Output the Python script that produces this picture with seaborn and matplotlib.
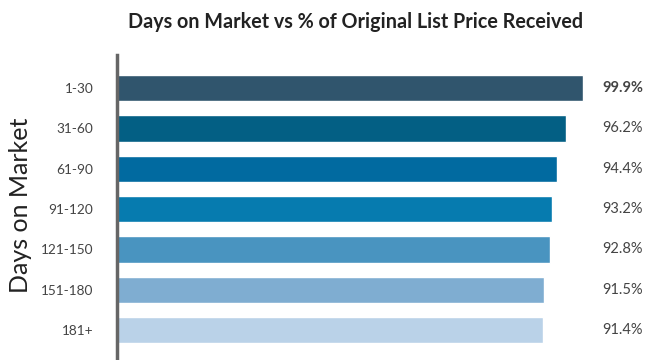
import matplotlib
matplotlib.use("Agg")
import matplotlib.pyplot as plt
import seaborn as sns
import pandas as pd

categories = ["1-30", "31-60", "61-90", "91-120", "121-150", "151-180", "181+"]
values = [99.9, 96.2, 94.4, 93.2, 92.8, 91.5, 91.4]
value_labels = ["99.9%", "96.2%", "94.4%", "93.2%", "92.8%", "91.5%", "91.4%"]
colors = ["#30556D", "#035F84", "#016AA0", "#067BAF", "#4994C0", "#7FADD1", "#BAD2E8"]

title = "Days on Market vs % of Original List Price Received"
ylabel = "Days on Market"

sns.set_theme(style="white")
plt.rcParams["font.family"] = ["Lato", "DejaVu Sans"]

df = pd.DataFrame({"cat": categories, "val": values})

fig = plt.figure(figsize=(6.6, 3.6), dpi=100)
ax = fig.add_axes([117 / 660, 0.0, 543 / 660, 1 - 55 / 360])

sns.barplot(data=df, x="val", y="cat", hue="cat", palette=colors,
            order=categories, hue_order=categories, legend=False,
            width=0.65, orient="h", ax=ax, saturation=1)

ax.set_xlim(0, 543 / 4.665)
ax.set_ylim(6.74, -0.82)
ax.set_xlabel("")
ax.set_ylabel("")
ax.set_xticks([])
for s in ["top", "right", "bottom"]:
    ax.spines[s].set_visible(False)
ax.spines["left"].set_color("#666666")
ax.spines["left"].set_linewidth(2.5)
ax.tick_params(axis="y", length=0, pad=17, labelsize=9.8, labelcolor="#444444")

for i, lab in enumerate(value_labels):
    ax.text(0.893, i, lab, transform=ax.get_yaxis_transform(),
            ha="left", va="center", fontsize=10.5, color="#444444",
            fontweight="bold" if i == 0 else "normal")

fig.text(356 / 660, 1 - 22 / 360, title, ha="center", va="center",
         fontsize=14.2, fontweight="bold", color="#222222")
fig.text(21 / 660, 1 - 205 / 360, ylabel, ha="center", va="center",
         rotation=90, fontsize=18, fontweight="normal", color="#222222")

fig.savefig("out.png", dpi=100)
